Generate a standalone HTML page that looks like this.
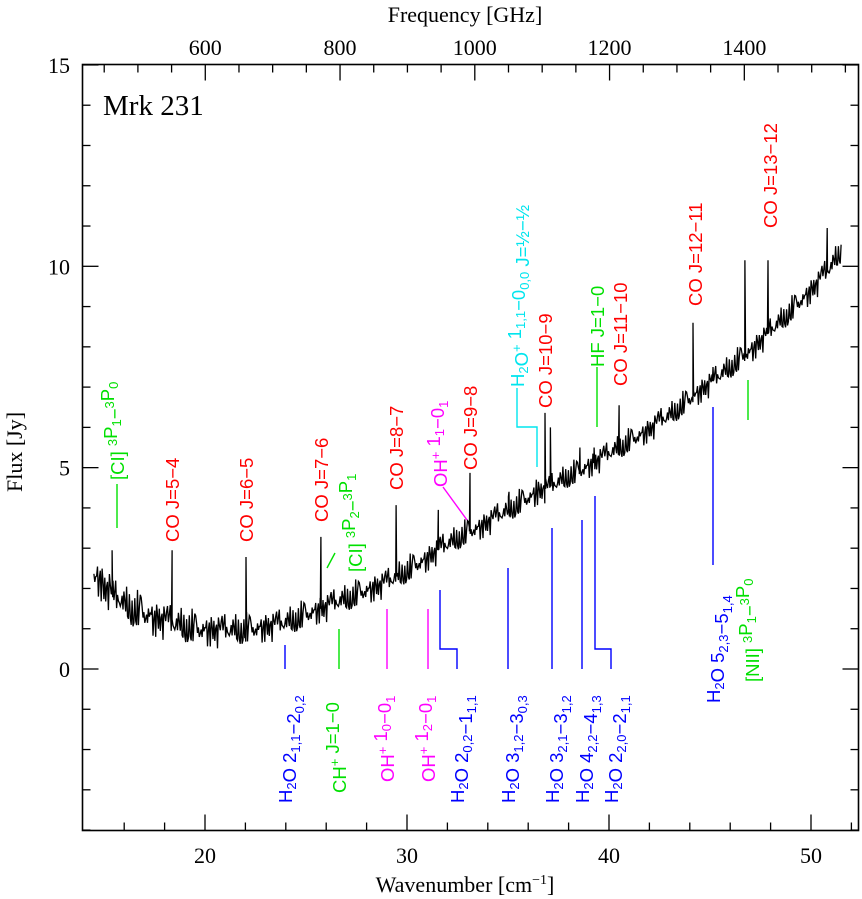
<!DOCTYPE html>
<html><head><meta charset="utf-8"><style>
html,body{margin:0;padding:0;background:#fff}
svg{display:block}
.t{font-family:"Liberation Serif",serif}
.l{font-family:"Liberation Sans",sans-serif;font-size:18.5px}
</style></head><body>
<svg id="chart" width="862" height="899" viewBox="0 0 862 899" xmlns="http://www.w3.org/2000/svg">
<rect x="82.5" y="64.5" width="776" height="766" fill="none" stroke="#000" stroke-width="1.6"/>
<g id="ticks" stroke="#000" stroke-width="1.3"></g>
<g id="labels" class="t" font-size="22" fill="#000"></g>
<text class="t" x="465" y="892" font-size="22" text-anchor="middle">Wavenumber [cm<tspan font-size="14" dy="-8">−1</tspan><tspan dy="8">]</tspan></text>
<text class="t" x="465" y="22" font-size="22" text-anchor="middle">Frequency [GHz]</text>
<text class="t" transform="translate(22,452) rotate(-90)" font-size="22" text-anchor="middle">Flux [Jy]</text>
<text class="t" x="103" y="115" font-size="29">Mrk 231</text>
<polyline id="spec" fill="none" stroke="#000" stroke-width="1.3" stroke-linejoin="miter"/>
<g id="ann" class="l"></g>
</svg>
<script>
const wavenumbers = [];
const fluxStart = 14.5, fluxStep = 0.25;
const fluxValues = [2.2,2.3,2.0,2.0, 1.7,1.75,1.6,1.55, 1.45,1.45,1.35,1.35, 1.25,1.25,1.2,1.15, 1.12,1.1,1.05,1.05,
 1.0,0.98,0.98,0.97, 0.97,0.96,0.96,0.96, 0.97,0.97,0.98,0.99, 1.0,1.02,1.05,1.07, 1.1,1.12,1.15,1.2,
 1.25,1.3,1.35,1.4, 1.45,1.5,1.55,1.6, 1.65,1.7,1.75,1.8, 1.85,1.9,1.95,2.0, 2.05,2.1,2.15,2.22,
 2.3,2.37,2.45,2.52, 2.6,2.67,2.75,2.85, 2.95,3.02,3.1,3.17, 3.25,3.32,3.4,3.45, 3.5,3.57,3.65,3.72,
 3.8,3.87,3.95,4.02, 4.1,4.17,4.25,4.32, 4.4,4.45,4.5,4.57, 4.65,4.72,4.8,4.85, 4.9,4.97,5.05,5.12,
 5.2,5.27,5.35,5.42, 5.5,5.57,5.65,5.72, 5.8,5.87,5.95,6.05, 6.15,6.22,6.3,6.4, 6.5,6.6,6.7,6.8,
 6.9,7.0,7.1,7.2, 7.3,7.4,7.5,7.6, 7.7,7.8,7.9,8.02, 8.15,8.27,8.4,8.52, 8.65,8.77,8.9,9.02,
 9.15,9.27,9.4,9.55, 9.7,9.85,10.0,10.2, 10.4];
const noisePattern = [0.3,-0.5,0.1,0.8,-0.2,-0.9,0.4,0.0,-0.4,0.6,0.2,-0.7,0.9,-0.1,-0.6,0.3,0.7,-0.3,0.0,-0.8,
 0.5,-0.2,0.2,-0.5,1.0,-0.4,0.1,0.6,-1.0,0.3,-0.1,0.4,-0.6,0.8,0.0,-0.3,0.5,-0.7,0.2,0.1,
 -0.5,0.7,-0.2,0.3,-0.9,0.6,0.0,-0.4,0.9,-0.6,0.2,-0.1,0.5,-0.8,0.3,0.1,-0.3,0.7,-0.5,0.4];
const noiseAmp = [0.55,0.4,0.36,0.34,0.36];
const lineCenters = [15.4,18.37,22.03,25.74,29.46,31.55,33.12,35.05,36.4,36.83,37.1,38.56,39.26,40.5,44.16,45.15,46.73,47.87,50.8];
const linePeaks = [2.95,2.95,2.78,3.28,4.07,3.95,4.87,4.4,4.7,6.36,6.0,5.5,5.5,6.55,8.6,7.5,10.15,10.15,10.95];
const xMajorTicks = [20,30,40,50];
const yMajorTicks = [0,5,10,15];
const freqTicks = [600,800,1000,1200,1400];

const X = v => 609 + (v - 40) * 20.2;
const Y = f => 669 - f * 40.27;
const F2V = g => g / 29.9792458;
const NS = 'http://www.w3.org/2000/svg';

for (let i = 0; i < fluxValues.length; i++) wavenumbers.push(fluxStart + i * fluxStep);
function interp(v){
  const i = Math.min(Math.max(Math.floor((v - fluxStart) / fluxStep),0),fluxValues.length-2);
  const t = (v - wavenumbers[i]) / fluxStep;
  return fluxValues[i] * (1 - t) + fluxValues[i + 1] * t;
}
function amp(v){ const k=Math.min(Math.max((v-14.5)/37*(noiseAmp.length-1),0),noiseAmp.length-1.001); const i=Math.floor(k),t=k-i; return noiseAmp[i]*(1-t)+noiseAmp[i+1]*t; }
const pts = [];
const vEnd = wavenumbers[wavenumbers.length-1];
let n = 0;
for (let v = fluxStart; v <= vEnd; v += 0.045, n++){
  pts.push([v, interp(v) + amp(v) * noisePattern[(n*13) % noisePattern.length]]);
}
lineCenters.forEach((c,i)=>{
  pts.push([c-0.03,interp(c-0.03)],[c,linePeaks[i]],[c+0.03,interp(c+0.03)]);
});
pts.sort((a,b)=>a[0]-b[0]);
const spec = document.getElementById('spec');
spec.setAttribute('points', pts.map(p=>X(p[0]).toFixed(1)+','+Y(p[1]).toFixed(1)).join(' '));

const tk = document.getElementById('ticks'), lb = document.getElementById('labels');
function ln(x1,y1,x2,y2){const l=document.createElementNS(NS,'line');l.setAttribute('x1',x1);l.setAttribute('y1',y1);l.setAttribute('x2',x2);l.setAttribute('y2',y2);tk.appendChild(l);}
function tx(x,y,s,anchor){const t=document.createElementNS(NS,'text');t.setAttribute('x',x);t.setAttribute('y',y);t.setAttribute('text-anchor',anchor);t.textContent=s;


lb.appendChild(t);}
for (let v=16; v<=52; v+=2){ const maj = xMajorTicks.includes(v); ln(X(v),830.5,X(v),830.5-(maj?16:8)); }
xMajorTicks.forEach(v=>tx(X(v),863,String(v),'middle'));
for (let f=-4; f<=15; f++){ const maj = yMajorTicks.includes(f); ln(82.5,Y(f),82.5+(maj?16:8),Y(f)); ln(858.5,Y(f),858.5-(maj?16:8),Y(f)); }
yMajorTicks.forEach(f=>tx(70,Y(f)+8,String(f),'end'));
for (let g=450; g<=1550; g+=50){ const v=F2V(g); if (X(v)<84||X(v)>857) continue; const maj = freqTicks.includes(g); ln(X(v),64.5,X(v),64.5+(maj?16:8)); }
freqTicks.forEach(g=>tx(X(F2V(g)),55,String(g),'middle'));

const ann = document.getElementById('ann');
function label(cx,yb,color,parts,name){
  const t=document.createElementNS(NS,'text');
  t.setAttribute('transform',`translate(${cx+7},${yb}) rotate(-90)`);
  t.setAttribute('fill',color);
  
  
  t.innerHTML=parts;
  ann.appendChild(t);
}
function seg(d,color){const p=document.createElementNS(NS,'path');p.setAttribute('d',d);p.setAttribute('stroke',color);p.setAttribute('fill','none');p.setAttribute('stroke-width','1.4');


ann.appendChild(p);}
const sub=s=>`<tspan font-size="13" dy="4">${s}</tspan><tspan dy="-4"></tspan>`;
const sup=s=>`<tspan font-size="13" dy="-7">${s}</tspan><tspan dy="7"></tspan>`;
const R='#ff0000',G='#00e000',M='#ff00ff',B='#0000ff',C='#00e5ee';
seg('M117,484V528',G); label(117,480,G,'[CI] '+sup('3')+'P'+sub('1')+'−'+sup('3')+'P'+sub('0'),'label-ci-10');
label(172,542,R,'CO J=5−4','label-co-5-4');
label(246,542,R,'CO J=6−5','label-co-6-5');
label(321,522,R,'CO J=7−6','label-co-7-6');
seg('M327,568L335,553',G); label(355,572,G,'[CI] '+sup('3')+'P'+sub('2')+'−'+sup('3')+'P'+sub('1'),'label-ci-21');
label(396,490,R,'CO J=8−7','label-co-8-7');
seg('M443,487L467,520',M); label(440,487,M,'OH'+sup('+')+' 1'+sub('1')+'−0'+sub('1'),'label-ohp-11');
label(470,470,R,'CO J=9−8','label-co-9-8');
seg('M517,388V427H537V467',C); label(517,387,C,'H'+sub('2')+'O'+sup('+')+' 1'+sub('1,1')+'−0'+sub('0,0')+' J=½−½','label-h2op');
label(545,408,R,'CO J=10−9','label-co-10-9');
seg('M597,367V427',G); label(597,367,G,'HF J=1−0','label-hf');
label(620,386,R,'CO J=11−10','label-co-11-10');
label(695,306,R,'CO J=12−11','label-co-12-11');
label(770,228,R,'CO J=13−12','label-co-13-12');
seg('M285,645V669',B); label(285,803,B,'H'+sub('2')+'O 2'+sub('1,1')+'−2'+sub('0,2'),'label-h2o-211');
seg('M339,629V669',G); label(339,793,G,'CH'+sup('+')+' J=1−0','label-chp');
seg('M387,609V669',M); label(387,782,M,'OH'+sup('+')+' 1'+sub('0')+'−0'+sub('1'),'label-ohp-10');
seg('M428,609V669',M); label(428,782,M,'OH'+sup('+')+' 1'+sub('2')+'−0'+sub('1'),'label-ohp-12');
seg('M440,590V649H457V669',B); label(457,803,B,'H'+sub('2')+'O 2'+sub('0,2')+'−1'+sub('1,1'),'label-h2o-202');
seg('M508,568V669',B); label(508,803,B,'H'+sub('2')+'O 3'+sub('1,2')+'−3'+sub('0,3'),'label-h2o-312');
seg('M552,528V669',B); label(552,803,B,'H'+sub('2')+'O 3'+sub('2,1')+'−3'+sub('1,2'),'label-h2o-321');
seg('M582,520V669',B); label(582,803,B,'H'+sub('2')+'O 4'+sub('2,2')+'−4'+sub('1,3'),'label-h2o-422');
seg('M595,496V649H611V669',B); label(611,803,B,'H'+sub('2')+'O 2'+sub('2,0')+'−2'+sub('1,1'),'label-h2o-220');
seg('M713,407V565',B); label(713,703,B,'H'+sub('2')+'O 5'+sub('2,3')+'−5'+sub('1,4'),'label-h2o-523');
seg('M748,380V420',G); label(752,682,G,'[NII] '+sup('3')+'P'+sub('1')+'−'+sup('3')+'P'+sub('0'),'label-nii');
</script>
</body></html>
